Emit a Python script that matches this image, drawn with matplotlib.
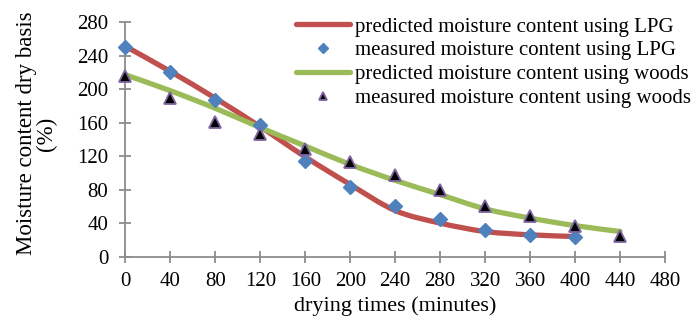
import numpy as np
import matplotlib.pyplot as plt
from matplotlib.path import Path
from matplotlib.patches import PathPatch
from matplotlib.lines import Line2D

plt.rcParams['font.family'] = 'Liberation Serif'
plt.rcParams['font.size'] = 15

# drying time (minutes)
t_lpg = [0, 40, 80, 120, 160, 200, 240, 280, 320, 360, 400]
t_wood = [0, 40, 80, 120, 160, 200, 240, 280, 320, 360, 400, 440]

# moisture content dry basis (%)
meas_lpg = [250, 220, 187, 157, 114, 83, 60, 45, 32, 26, 24]
pred_lpg = [251, 221, 189, 155, 119, 86, 55, 40, 30, 26, 24]
meas_wood = [216, 189, 161, 146, 128, 113, 97, 79, 60, 48, 37, 25]
pred_wood = [217, 198, 177, 154, 132, 110, 91, 74, 57, 46, 37, 30]

c_red = '#C0504D'
c_green = '#9BBB59'
c_blue = '#4F81BD'
c_purple = '#8064A2'
c_axis = '#8C8C8C'


def smooth_path(x, y):
    # Excel-style smoothed line: Catmull-Rom segments as cubic Beziers
    x = np.asarray(x, float)
    y = np.asarray(y, float)
    px = np.concatenate([[x[0]], x, [x[-1]]])
    py = np.concatenate([[y[0]], y, [y[-1]]])
    verts = [(x[0], y[0])]
    codes = [Path.MOVETO]
    for i in range(1, len(px) - 2):
        c1 = (px[i] + (px[i + 1] - px[i - 1]) / 6, py[i] + (py[i + 1] - py[i - 1]) / 6)
        c2 = (px[i + 1] - (px[i + 2] - px[i]) / 6, py[i + 1] - (py[i + 2] - py[i]) / 6)
        verts += [c1, c2, (px[i + 1], py[i + 1])]
        codes += [Path.CURVE4] * 3
    return Path(verts, codes)


fig = plt.figure(figsize=(6.97, 3.29), dpi=100)
ax = fig.add_axes([0.180, 0.220, 0.774, 0.713])

for tt, vv, col in [(t_lpg, pred_lpg, c_red), (t_wood, pred_wood, c_green)]:
    ax.add_patch(PathPatch(smooth_path(tt, vv), facecolor='none', edgecolor=col,
                           lw=3.8, capstyle='round', joinstyle='round', zorder=2))

ax.plot(t_lpg, meas_lpg, linestyle='none', marker='D', ms=7.5, color=c_blue,
        mec=c_blue, clip_on=False, zorder=3)
ax.plot(t_wood, meas_wood, linestyle='none', marker='^', ms=8.5, color='black',
        mec=c_purple, mew=1.3, clip_on=False, zorder=4)

ax.set_xlim(0, 480)
ax.set_ylim(0, 280)
ax.set_xticks(np.arange(0, 481, 40))
ax.set_yticks(np.arange(0, 281, 40))
for s in ['top', 'right']:
    ax.spines[s].set_visible(False)
for s in ['left', 'bottom']:
    ax.spines[s].set_color(c_axis)
    ax.spines[s].set_linewidth(1.3)
ax.tick_params(direction='inout', length=8.5, width=1.3, color=c_axis, labelsize=15)
ax.tick_params(axis='x', pad=7)
ax.tick_params(axis='y', pad=8)

ax.set_xlabel('drying times (minutes)', fontsize=16)
ax.xaxis.set_label_coords(0.5, -0.171)
ax.set_ylabel('Moisture content dry basis\n(%)', fontsize=16.5, linespacing=0.92)
ax.yaxis.set_label_coords(-0.127, 0.525)

handles = [
    Line2D([], [], color=c_red, lw=3.8, solid_capstyle='round'),
    Line2D([], [], linestyle='none', marker='D', ms=5, color=c_blue),
    Line2D([], [], color=c_green, lw=3.8, solid_capstyle='round'),
    Line2D([], [], linestyle='none', marker='^', ms=6, color='black', mec=c_purple, mew=1.3),
]
labels = ['predicted moisture content using LPG', 'measured moisture content using LPG',
          'predicted moisture content using woods', 'measured moisture content using woods']
fig.legend(handles, labels, loc='upper left', bbox_to_anchor=(296 / 697, 1 - 17 / 329),
           frameon=False, fontsize=15, handlelength=2.6, handletextpad=0.25,
           labelspacing=0.2, borderpad=0, borderaxespad=0)

fig.savefig('out.png', dpi=100)
